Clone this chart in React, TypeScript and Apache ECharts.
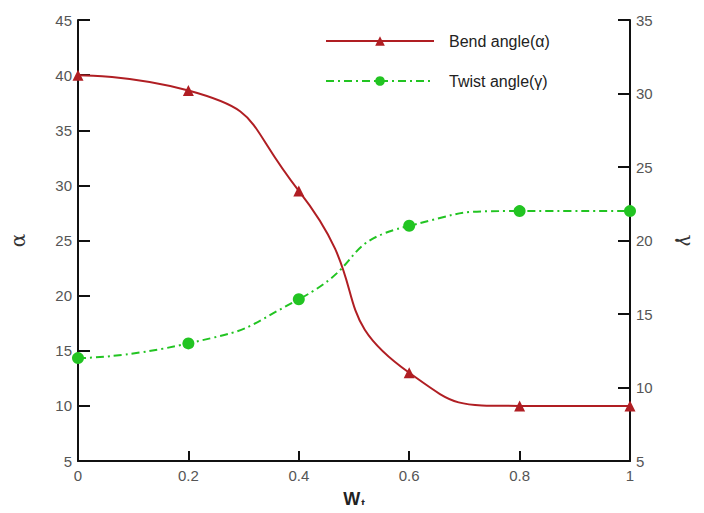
import React, { useEffect, useRef } from "react";
import * as echarts from "echarts";

const xValues = [0, 0.2, 0.4, 0.6, 0.8, 1];
const bendAngle = [40, 38.6, 29.5, 13, 10, 10];
const twistAngle = [12, 13, 16, 21, 22, 22];
const seriesNames = ["Bend angle(α)", "Twist angle(γ)"];

export default function App() {
  const ref = useRef<HTMLDivElement>(null);
  useEffect(() => {
    if (!ref.current) return;
    const chart = echarts.init(ref.current, null, { renderer: "svg" });
    const labelStyle = { color: "#555", fontSize: 15, fontFamily: "Liberation Sans, Arial, sans-serif" };
    const axisLine = { show: true, lineStyle: { color: "#111", width: 2 } };
    chart.setOption({
      animation: false,
      backgroundColor: "#fff",
      grid: { left: 76, right: 62, top: 20, bottom: 46, containLabel: false },
      legend: {
        orient: "vertical",
        left: 320,
        top: 28,
        itemWidth: 108,
        itemHeight: 12,
        itemGap: 24,
        textStyle: { color: "#222", fontSize: 16, fontFamily: "Liberation Sans, Arial, sans-serif", padding: [0, 0, 0, 10] },
        data: seriesNames,
      },
      xAxis: {
        type: "value",
        min: 0,
        max: 1,
        interval: 0.2,
        name: "{w|W}{s|t}",
        nameLocation: "middle",
        nameGap: 28,
        nameTextStyle: {
          rich: {
            w: { fontSize: 18, fontWeight: "bold", color: "#222", fontFamily: "Liberation Sans, Arial, sans-serif" },
            s: { fontSize: 11, fontWeight: "bold", color: "#222", verticalAlign: "bottom", padding: [8, 0, 0, 1] },
          },
        },
        axisLine,
        axisTick: { show: true, inside: true, length: 10, lineStyle: { color: "#111", width: 2 } },
        axisLabel: { ...labelStyle, margin: 7 },
        splitLine: { show: false },
      },
      yAxis: [
        {
          type: "value",
          min: 5,
          max: 45,
          interval: 5,
          position: "left",
          name: "α",
          nameLocation: "middle",
          nameGap: 50,
          nameRotate: 90,
          nameTextStyle: { fontSize: 20, color: "#333", fontFamily: "DejaVu Serif, serif" },
          axisLine,
          axisTick: { show: true, inside: true, length: 12, lineStyle: { color: "#111", width: 2 } },
          axisLabel: { ...labelStyle, margin: 6 },
          splitLine: { show: false },
        },
        {
          type: "value",
          min: 5,
          max: 35,
          interval: 5,
          position: "right",
          name: "γ",
          nameLocation: "middle",
          nameGap: 46,
          nameRotate: -90,
          nameTextStyle: { fontSize: 20, color: "#333", fontFamily: "DejaVu Serif, serif" },
          axisLine,
          axisTick: { show: true, inside: true, length: 12, lineStyle: { color: "#111", width: 2 } },
          axisLabel: { ...labelStyle, margin: 6 },
          splitLine: { show: false },
        },
      ],
      series: [
        {
          name: seriesNames[0],
          type: "line",
          yAxisIndex: 0,
          smooth: 0.6,
          data: xValues.map((x, i) => [x, bendAngle[i]]),
          symbol: "triangle",
          symbolSize: 11,
          lineStyle: { color: "#b01e23", width: 2 },
          itemStyle: { color: "#b01e23" },
          clip: false,
        },
        {
          name: seriesNames[1],
          type: "line",
          yAxisIndex: 1,
          smooth: 0.6,
          data: xValues.map((x, i) => [x, twistAngle[i]]),
          symbol: "circle",
          symbolSize: 12,
          lineStyle: { color: "#22c422", width: 2, type: [8, 4, 2, 4] },
          itemStyle: { color: "#22c422" },
          clip: false,
        },
      ],
    });
    return () => chart.dispose();
  }, []);
  return <div ref={ref} style={{ width: 704, height: 513, margin: -8 }} />;
}
